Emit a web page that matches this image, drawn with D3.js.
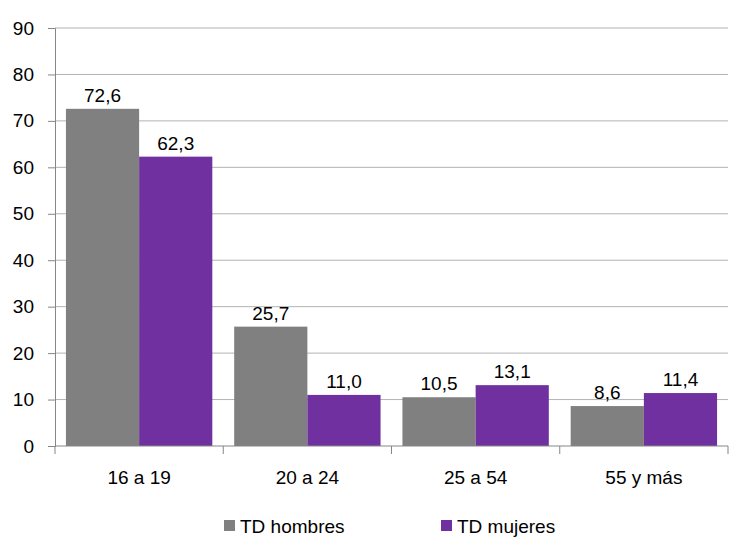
<!DOCTYPE html>
<html>
<head>
<meta charset="utf-8">
<script src="https://cdn.jsdelivr.net/npm/d3@7"></script>
<style>
  body { margin: 0; background: #fff; }
  text { font-family: "Liberation Sans", sans-serif; fill: #000; }
</style>
</head>
<body>
<div id="chart"></div>
<script>
// data
var categories = ["16 a 19", "20 a 24", "25 a 54", "55 y más"];
var seriesNames = ["TD hombres", "TD mujeres"];
var hombres = [72.6, 25.7, 10.5, 8.6];
var mujeres = [62.3, 11.0, 13.1, 11.4];
var yTicks = [0, 10, 20, 30, 40, 50, 60, 70, 80, 90];
var colors = ["#808080", "#7030a0"];

var svgWidth = 751, svgHeight = 552;
var margin = { top: 28, right: 23, bottom: 106, left: 55 };
var width = svgWidth - margin.left - margin.right;
var height = svgHeight - margin.top - margin.bottom;
var fs = "19px";

var svg = d3.select("#chart").append("svg")
  .attr("width", svgWidth)
  .attr("height", svgHeight);

var chartGroup = svg.append("g")
  .attr("transform", `translate(${margin.left}, ${margin.top})`);

var x0 = d3.scaleBand().domain(categories).range([0, width]).paddingInner(0.13).paddingOuter(0.065);
var x1 = d3.scaleBand().domain(seriesNames).range([0, x0.bandwidth()]);
var y = d3.scaleLinear().domain([0, 90]).range([height, 0]);

// gridlines
chartGroup.append("g")
  .selectAll("line")
  .data(yTicks.slice(1))
  .join("line")
  .attr("x1", 0).attr("x2", width)
  .attr("y1", d => y(d)).attr("y2", d => y(d))
  .attr("stroke", "#b3b3b3").attr("stroke-width", 1);

// y axis
var leftAxis = d3.axisLeft(y).tickValues(yTicks).tickSize(7).tickPadding(14).tickFormat(d3.format("d"));
var yAx = chartGroup.append("g").call(leftAxis);
yAx.select(".domain").attr("stroke", "#868686");
yAx.selectAll(".tick line").attr("stroke", "#868686");
yAx.selectAll("text").style("font-size", fs).style("font-family", "Liberation Sans, sans-serif");

// bars
var rows = categories.map((c, i) => ({ cat: c, vals: [hombres[i], mujeres[i]] }));
var groups = chartGroup.selectAll(".grp")
  .data(rows)
  .join("g")
  .attr("transform", d => `translate(${x0(d.cat)},0)`);

groups.selectAll("rect")
  .data(d => d.vals.map((v, j) => ({ name: seriesNames[j], v: v, j: j })))
  .join("rect")
  .attr("x", d => x1(d.name))
  .attr("y", d => y(d.v))
  .attr("width", x1.bandwidth())
  .attr("height", d => height - y(d.v))
  .attr("fill", d => colors[d.j]);

groups.selectAll(".lbl")
  .data(d => d.vals.map((v, j) => ({ name: seriesNames[j], v: v })))
  .join("text")
  .attr("class", "lbl")
  .attr("x", d => x1(d.name) + x1.bandwidth() / 2)
  .attr("y", d => y(d.v) - 7)
  .attr("text-anchor", "middle")
  .style("font-size", fs)
  .text(d => d3.format(".1f")(d.v).replace(".", ","));

// x axis
chartGroup.append("line")
  .attr("x1", 0).attr("x2", width)
  .attr("y1", height).attr("y2", height)
  .attr("stroke", "#868686");
chartGroup.append("g")
  .selectAll("line")
  .data(d3.range(categories.length + 1))
  .join("line")
  .attr("x1", i => i * width / categories.length)
  .attr("x2", i => i * width / categories.length)
  .attr("y1", height).attr("y2", height + 8)
  .attr("stroke", "#868686");
chartGroup.append("g")
  .selectAll("text")
  .data(categories)
  .join("text")
  .attr("x", d => x0(d) + x0.bandwidth() / 2)
  .attr("y", height + 38)
  .attr("text-anchor", "middle")
  .style("font-size", fs)
  .text(d => d);

// legend
var legendX = [224, 441];
var legend = svg.append("g").selectAll("g")
  .data(seriesNames)
  .join("g")
  .attr("transform", (d, i) => `translate(${legendX[i]}, 526)`);
legend.append("rect")
  .attr("x", 0).attr("y", -6)
  .attr("width", 11).attr("height", 11)
  .attr("fill", (d, i) => colors[i]);
legend.append("text")
  .attr("x", 16).attr("y", 7)
  .style("font-size", fs)
  .text(d => d);
</script>
</body>
</html>
